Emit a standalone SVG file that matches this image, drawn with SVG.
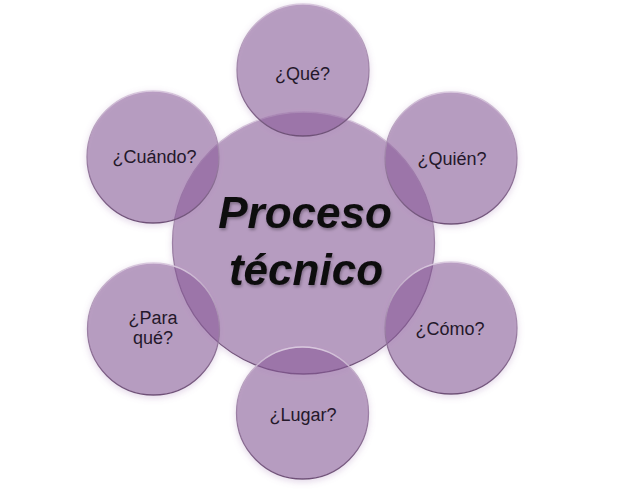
<svg xmlns="http://www.w3.org/2000/svg" width="619" height="491" viewBox="0 0 619 491">
  <defs>
    <filter id="glow" x="-20%" y="-20%" width="140%" height="140%">
      <feGaussianBlur in="SourceAlpha" stdDeviation="3" result="b"/>
      <feOffset dy="2" in="b" result="o"/>
      <feFlood flood-color="#9b6fae" flood-opacity="0.4"/>
      <feComposite in2="o" operator="in" result="s"/>
      <feComposite in="s" in2="SourceAlpha" operator="out" result="s2"/>
      <feMerge><feMergeNode in="s2"/><feMergeNode in="SourceGraphic"/></feMerge>
    </filter>
    <filter id="tshadow" x="-10%" y="-20%" width="120%" height="150%">
      <feGaussianBlur in="SourceAlpha" stdDeviation="1.5" result="b"/>
      <feOffset dx="1" dy="2" in="b" result="o"/>
      <feFlood flood-color="#000" flood-opacity="0.3"/>
      <feComposite in2="o" operator="in" result="s"/>
      <feMerge><feMergeNode in="s"/><feMergeNode in="SourceGraphic"/></feMerge>
    </filter>
    <linearGradient id="rim" x1="0" y1="0" x2="0" y2="1">
      <stop offset="0" stop-color="#d9c8de"/>
      <stop offset="0.5" stop-color="#9c80a5"/>
      <stop offset="1" stop-color="#6e5077"/>
    </linearGradient>
  </defs>
  <style>
    .c { fill: #865796; fill-opacity: 0.56; stroke: url(#rim); stroke-width: 1.3; }
    .lbl { font-family: "Liberation Sans", Arial, sans-serif; font-size: 18px; fill: #24182a; text-anchor: middle; }
    .main { font-family: "Liberation Sans", Arial, sans-serif; font-size: 44px; font-weight: bold; font-style: italic; fill: #0d0a0e; text-anchor: middle; }
  </style>
  <rect width="619" height="491" fill="#ffffff"/>
  <g id="connectors"/>
  <g filter="url(#glow)">
    <g id="node-center">
      <circle class="c" cx="303.5" cy="243" r="131"/>
    </g>
    <g id="node-que">
      <circle class="c" cx="303" cy="70" r="66"/>
    </g>
    <g id="node-quien">
      <circle class="c" cx="451" cy="158" r="66"/>
    </g>
    <g id="node-como">
      <circle class="c" cx="451" cy="328" r="66"/>
    </g>
    <g id="node-lugar">
      <circle class="c" cx="302.5" cy="413" r="66"/>
    </g>
    <g id="node-paraque">
      <circle class="c" cx="153.5" cy="329" r="66"/>
    </g>
    <g id="node-cuando">
      <circle class="c" cx="153" cy="157" r="66"/>
    </g>
  </g>
  <g id="labels">
    <text class="main" x="305" y="228" filter="url(#tshadow)">Proceso</text>
    <text class="main" x="306" y="285" filter="url(#tshadow)">técnico</text>
    <text class="lbl" x="302.5" y="80">¿Qué?</text>
    <text class="lbl" x="452" y="165">¿Quién?</text>
    <text class="lbl" x="450" y="335">¿Cómo?</text>
    <text class="lbl" x="303" y="421">¿Lugar?</text>
    <text class="lbl" x="153" y="324">¿Para</text>
    <text class="lbl" x="153" y="344">qué?</text>
    <text class="lbl" x="154.5" y="163">¿Cuándo?</text>
  </g>
</svg>
